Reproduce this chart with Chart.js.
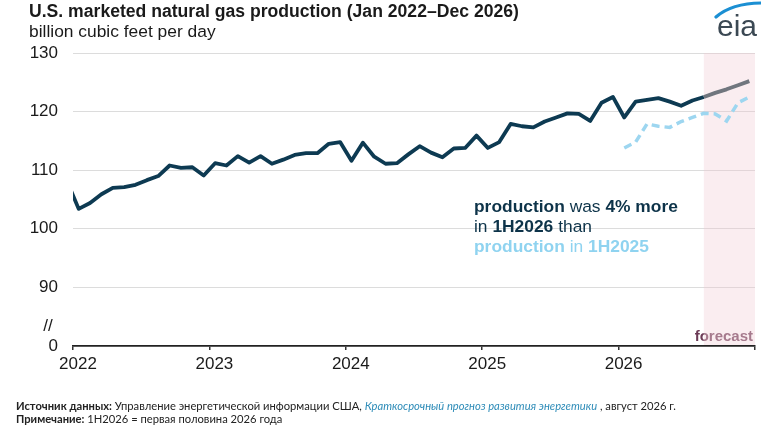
<!DOCTYPE html>
<html>
<head>
<meta charset="utf-8">
<script src="https://cdn.jsdelivr.net/npm/chart.js@4"></script>
<style>
  html, body { margin: 0; padding: 0; background: #fff; }
  #wrap { position: relative; width: 761px; height: 426px; overflow: hidden; font-family: "Liberation Sans", Arial, sans-serif; }
  #c { position: absolute; left: 0; top: 0; }
  .txt { position: absolute; white-space: nowrap; }
  #title { left: 29px; top: 3px; font-size: 17.6px; line-height: 17px; font-weight: bold; color: #1a1a1a; }
  #sub { left: 29px; top: 23px; font-size: 17.4px; line-height: 16px; color: #1a1a1a; }
  #note { left: 474px; top: 196px; font-size: 17.4px; line-height: 20px; color: #0d3349; }
  #note .lt { color: #8fd3f0; }
  #foot { left: 16px; top: 400px; font-family: Lato, "Noto Sans", sans-serif; font-size: 11.2px; line-height: 12.5px; color: #222; }
  #foot i { color: #2e8cb8; }
</style>
</head>
<body>
<div id="wrap">
  <canvas id="c" width="761" height="426"></canvas>
  <div class="txt" id="title">U.S. marketed natural gas production (Jan 2022–Dec 2026)</div>
  <div class="txt" id="sub">billion cubic feet per day</div>
  <div class="txt" id="note"><b>production</b> was <b>4% more</b><br>in <b>1H2026</b> than<br><span class="lt"><b>production</b> in <b>1H2025</b></span></div>
  <div class="txt" id="foot"><b>Источник данных:</b> Управление энергетической информации США, <i>Краткосрочный прогноз развития энергетики</i> , август 2026 г.<br><b>Примечание:</b> 1H2026 = первая половина 2026 года</div>
</div>
<script>
// --------- данные (млрд куб. футов в сутки) ----------
const years = ["2022", "2023", "2024", "2025", "2026"];
const prodDec2021 = [108.0];
const prod2022 = [103.4, 104.4, 105.9, 107.0, 107.1, 107.5, 108.3, 109.0, 110.8, 110.4, 110.5, 109.1];
const prod2023 = [111.2, 110.8, 112.4, 111.3, 112.4, 111.1, 111.8, 112.6, 112.9, 112.9, 114.5, 114.8];
const prod2024 = [111.6, 114.7, 112.3, 111.1, 111.2, 112.7, 114.1, 113.0, 112.2, 113.7, 113.8, 115.9];
const prod2025 = [113.8, 114.8, 117.9, 117.5, 117.3, 118.3, 119.0, 119.7, 119.6, 118.4, 121.5, 122.5];
const prod2026 = [119.0, 121.7, 122.0, 122.3, 121.7, 121.0, 121.9, 122.5, 123.2, 123.8, 124.5, 125.2];
const forecastStart = 55.5; // август 2026 (месяцев от янв 2022)
const yTicks = [80, 90, 100, 110, 120, 130]; // 80 подписан как 0 (разрыв оси)

// точки ставятся в середину месяца
const byYear = [prod2022, prod2023, prod2024, prod2025, prod2026];
const mainPts = [{ x: -0.5, y: prodDec2021[0] }];
byYear.forEach((arr, k) => arr.forEach((v, m) => mainPts.push({ x: k * 12 + m + 0.5, y: v })));
// 2025 поверх 2026 для сравнения
const cmpPts = prod2025.map((v, m) => ({ x: 48 + m + 0.5, y: v }));

const overlay = {
  id: "overlay",
  beforeDatasetsDraw(chart) {
    const { ctx, chartArea: a, scales } = chart;
    const x0 = scales.x.getPixelForValue(forecastStart);
    ctx.save();
    ctx.fillStyle = "rgba(240,200,208,0.32)";
    ctx.fillRect(x0, a.top, a.right - x0, a.bottom - a.top - 1);
    // подпись forecast: левая часть темнее, внутри заливки светлее
    ctx.font = 'bold 15px "Liberation Sans", Arial, sans-serif';
    ctx.textAlign = "right";
    ctx.textBaseline = "alphabetic";
    [["#6b3a55", 0, x0], ["#a67a8d", x0, a.right + 10]].forEach(([col, l, r]) => {
      ctx.save();
      ctx.beginPath();
      ctx.rect(l, a.bottom - 25, r - l, 25);
      ctx.clip();
      ctx.fillStyle = col;
      ctx.fillText("forecast", a.right - 2, a.bottom - 5);
      ctx.restore();
    });
    ctx.restore();
  },
  afterDraw(chart) {
    const { ctx, scales } = chart;
    ctx.save();
    // знак разрыва оси
    ctx.font = '17px "Liberation Sans", Arial, sans-serif';
    ctx.fillStyle = "#1a1a1a";
    ctx.textAlign = "center";
    ctx.textBaseline = "middle";
    ctx.fillText("//", 48, (scales.y.getPixelForValue(80) + scales.y.getPixelForValue(90)) / 2 + 10);
    // логотип eia
    ctx.font = '30px "Liberation Sans", Arial, sans-serif';
    ctx.fillStyle = "#3b4853";
    ctx.textAlign = "left";
    ctx.textBaseline = "alphabetic";
    ctx.fillText("eia", 717, 36);
    ctx.strokeStyle = "#1b8fd3";
    ctx.lineWidth = 3.2;
    ctx.lineCap = "round";
    ctx.beginPath();
    ctx.moveTo(716, 17);
    ctx.quadraticCurveTo(732, 3, 762, 3);
    ctx.stroke();
    ctx.restore();
  }
};

new Chart(document.getElementById("c"), {
  type: "line",
  data: {
    datasets: [
      {
        label: "production",
        data: mainPts,
        borderColor: "#0d3a52",
        borderWidth: 3.8,
        pointRadius: 0,
        borderJoinStyle: "round",
        segment: { borderColor: c => (c.p0.parsed.x >= forecastStart - 0.5 ? "#70767e" : "#0d3a52") },
        clip: { left: 0, top: 10, right: 10, bottom: 10 },
        order: 1
      },
      {
        label: "production 2025",
        data: cmpPts,
        borderColor: "#9dd6f0",
        borderWidth: 3.5,
        borderDash: [8, 5],
        pointRadius: 0,
        order: 2
      }
    ]
  },
  options: {
    responsive: false,
    animation: false,
    layout: { padding: { left: 0, top: 53, right: 6, bottom: 50 } },
    plugins: { legend: { display: false }, tooltip: { enabled: false } },
    scales: {
      x: {
        type: "linear",
        min: 0,
        max: 60,
        afterFit: s => { s.height = 30; },
        afterBuildTicks: s => { s.ticks = [0, 12, 24, 36, 48, 60].map(v => ({ value: v })); },
        ticks: {
          callback: v => years[v / 12] || "",
          font: { family: '"Liberation Sans", Arial, sans-serif', size: 17 },
          color: "#1a1a1a",
          padding: 4,
          labelOffset: 5,
          maxRotation: 0
        },
        grid: { drawOnChartArea: false, drawTicks: true, tickLength: 4, color: "#333", lineWidth: 1.5 },
        border: { display: true, color: "#222", width: 1.8 }
      },
      y: {
        min: 80,
        max: 130,
        afterFit: s => { s.width = 73; },
        afterBuildTicks: s => { s.ticks = yTicks.map(v => ({ value: v })); },
        ticks: {
          callback: v => (v === 80 ? "0" : v),
          font: { family: '"Liberation Sans", Arial, sans-serif', size: 17 },
          color: "#1a1a1a",
          padding: 15
        },
        grid: {
          drawTicks: false,
          color: c => (c.tick && c.tick.value === 80 ? "rgba(0,0,0,0)" : "#dcdcdc"),
          lineWidth: 1
        },
        border: { display: false }
      }
    }
  },
  plugins: [overlay]
});
</script>
</body>
</html>
